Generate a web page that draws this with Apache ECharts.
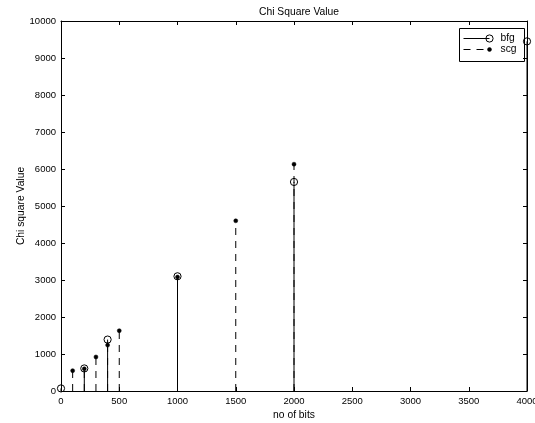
<!DOCTYPE html>
<html>
<head>
<meta charset="utf-8">
<script src="https://cdn.jsdelivr.net/npm/echarts@6/dist/echarts.min.js"></script>
<style>
  html, body { margin: 0; padding: 0; background: #fff; }
  #chart { width: 535px; height: 423px; }
</style>
</head>
<body>
<div id="chart"></div>
<script>
// Stem data: number of bits vs chi square value
const bfgBits = [0, 200, 400, 1000, 2000, 4000];
const bfgValues = [70, 610, 1390, 3100, 5650, 9450];
const scgBits = [100, 200, 300, 400, 500, 1000, 1500, 2000];
const scgValues = [550, 600, 920, 1240, 1630, 3080, 4600, 6130];

const xTicks = [0, 500, 1000, 1500, 2000, 2500, 3000, 3500, 4000];
const yTicks = [0, 1000, 2000, 3000, 4000, 5000, 6000, 7000, 8000, 9000, 10000];

const FONT = 'Liberation Sans';
const FS = 9.5;      // tick labels
const FS_TEXT = 10.3; // title, axis names, legend
const DASH = [7, 6];

function pairs(xs, ys) { return xs.map((x, i) => [x, ys[i]]); }

// Stem renderer: a vertical line from zero to the value, topped by a marker
function stemRenderer(dashed, markerKind) {
  return function (params, api) {
    const base = api.coord([api.value(0), 0]);
    const top = api.coord([api.value(0), api.value(1)]);
    const marker = markerKind === 'circle'
      ? { type: 'circle', shape: { cx: top[0], cy: top[1], r: 3.6 },
          style: { fill: 'none', stroke: '#000', lineWidth: 1 } }
      : { type: 'circle', shape: { cx: top[0], cy: top[1], r: 2 },
          style: { fill: '#000', stroke: '#000', lineWidth: 0.5 } };
    return {
      type: 'group',
      children: [
        { type: 'line', shape: { x1: base[0], y1: base[1], x2: top[0], y2: top[1] },
          style: { stroke: '#000', lineWidth: 1, lineDash: dashed ? DASH : null } },
        marker
      ]
    };
  };
}

const axisCommon = {
  type: 'value',
  axisLine: { show: true, onZero: false, lineStyle: { color: '#000', width: 1 } },
  axisTick: { show: true, inside: true, length: 4, lineStyle: { color: '#000' } },
  splitLine: { show: false },
  axisLabel: { color: '#000', fontFamily: FONT, fontSize: FS, formatter: v => String(v) }
};

const chart = echarts.init(document.getElementById('chart'), null, { renderer: 'canvas' });
chart.setOption({
  backgroundColor: '#fff',
  animation: false,
  title: {
    text: 'Chi Square Value',
    left: 294, top: 2, textAlign: 'center',
    textStyle: { color: '#000', fontFamily: FONT, fontSize: FS_TEXT, fontWeight: 'normal' }
  },
  grid: { left: 61, right: 8, top: 21, bottom: 32, containLabel: false, outerBoundsMode: 'none' },
  xAxis: [
    Object.assign({}, axisCommon, {
      position: 'bottom', min: xTicks[0], max: xTicks[xTicks.length - 1], interval: 500,
      name: 'no of bits', nameLocation: 'middle', nameGap: 19, nameMoveOverlap: false,
      nameTextStyle: { color: '#000', fontFamily: FONT, fontSize: FS_TEXT },
      axisLabel: Object.assign({}, axisCommon.axisLabel, { margin: 5 })
    }),
    Object.assign({}, axisCommon, {
      position: 'top', min: xTicks[0], max: xTicks[xTicks.length - 1], interval: 500,
      axisLabel: { show: false }
    })
  ],
  yAxis: [
    Object.assign({}, axisCommon, {
      position: 'left', min: yTicks[0], max: yTicks[yTicks.length - 1], interval: 1000,
      name: 'Chi square Value', nameLocation: 'middle', nameGap: 35, nameMoveOverlap: false,
      nameTextStyle: { color: '#000', fontFamily: FONT, fontSize: FS_TEXT },
      axisLabel: Object.assign({}, axisCommon.axisLabel, { margin: 5 })
    }),
    Object.assign({}, axisCommon, {
      position: 'right', min: yTicks[0], max: yTicks[yTicks.length - 1], interval: 1000,
      axisLabel: { show: false }
    })
  ],
  series: [
    {
      name: 'scg', type: 'custom', xAxisIndex: 0, yAxisIndex: 0,
      data: pairs(scgBits, scgValues),
      renderItem: stemRenderer(true, 'dot'), clip: false, z: 3
    },
    {
      name: 'bfg', type: 'custom', xAxisIndex: 0, yAxisIndex: 0,
      data: pairs(bfgBits, bfgValues),
      renderItem: stemRenderer(false, 'circle'), clip: false, z: 4
    }
  ],
  graphic: [
    {
      type: 'group', left: 459, top: 28, z: 2,
      children: [
        { type: 'rect', shape: { x: 0, y: 0, width: 65, height: 33 },
          style: { fill: '#fff', stroke: '#000', lineWidth: 1 } },
        { type: 'line', shape: { x1: 4, y1: 10, x2: 30, y2: 10 },
          style: { stroke: '#000', lineWidth: 1 } },
        { type: 'circle', shape: { cx: 30, cy: 10, r: 3.6 },
          style: { fill: 'none', stroke: '#000', lineWidth: 1 } },
        { type: 'text', x: 41, y: 10,
          style: { text: 'bfg', fill: '#000', font: FS_TEXT + 'px "' + FONT + '"', textVerticalAlign: 'middle' } },
        { type: 'line', shape: { x1: 4, y1: 21, x2: 30, y2: 21 },
          style: { stroke: '#000', lineWidth: 1, lineDash: DASH } },
        { type: 'circle', shape: { cx: 30, cy: 21, r: 2 },
          style: { fill: '#000', stroke: '#000', lineWidth: 0.5 } },
        { type: 'text', x: 41, y: 21,
          style: { text: 'scg', fill: '#000', font: FS_TEXT + 'px "' + FONT + '"', textVerticalAlign: 'middle' } }
      ]
    }
  ]
});
</script>
</body>
</html>
